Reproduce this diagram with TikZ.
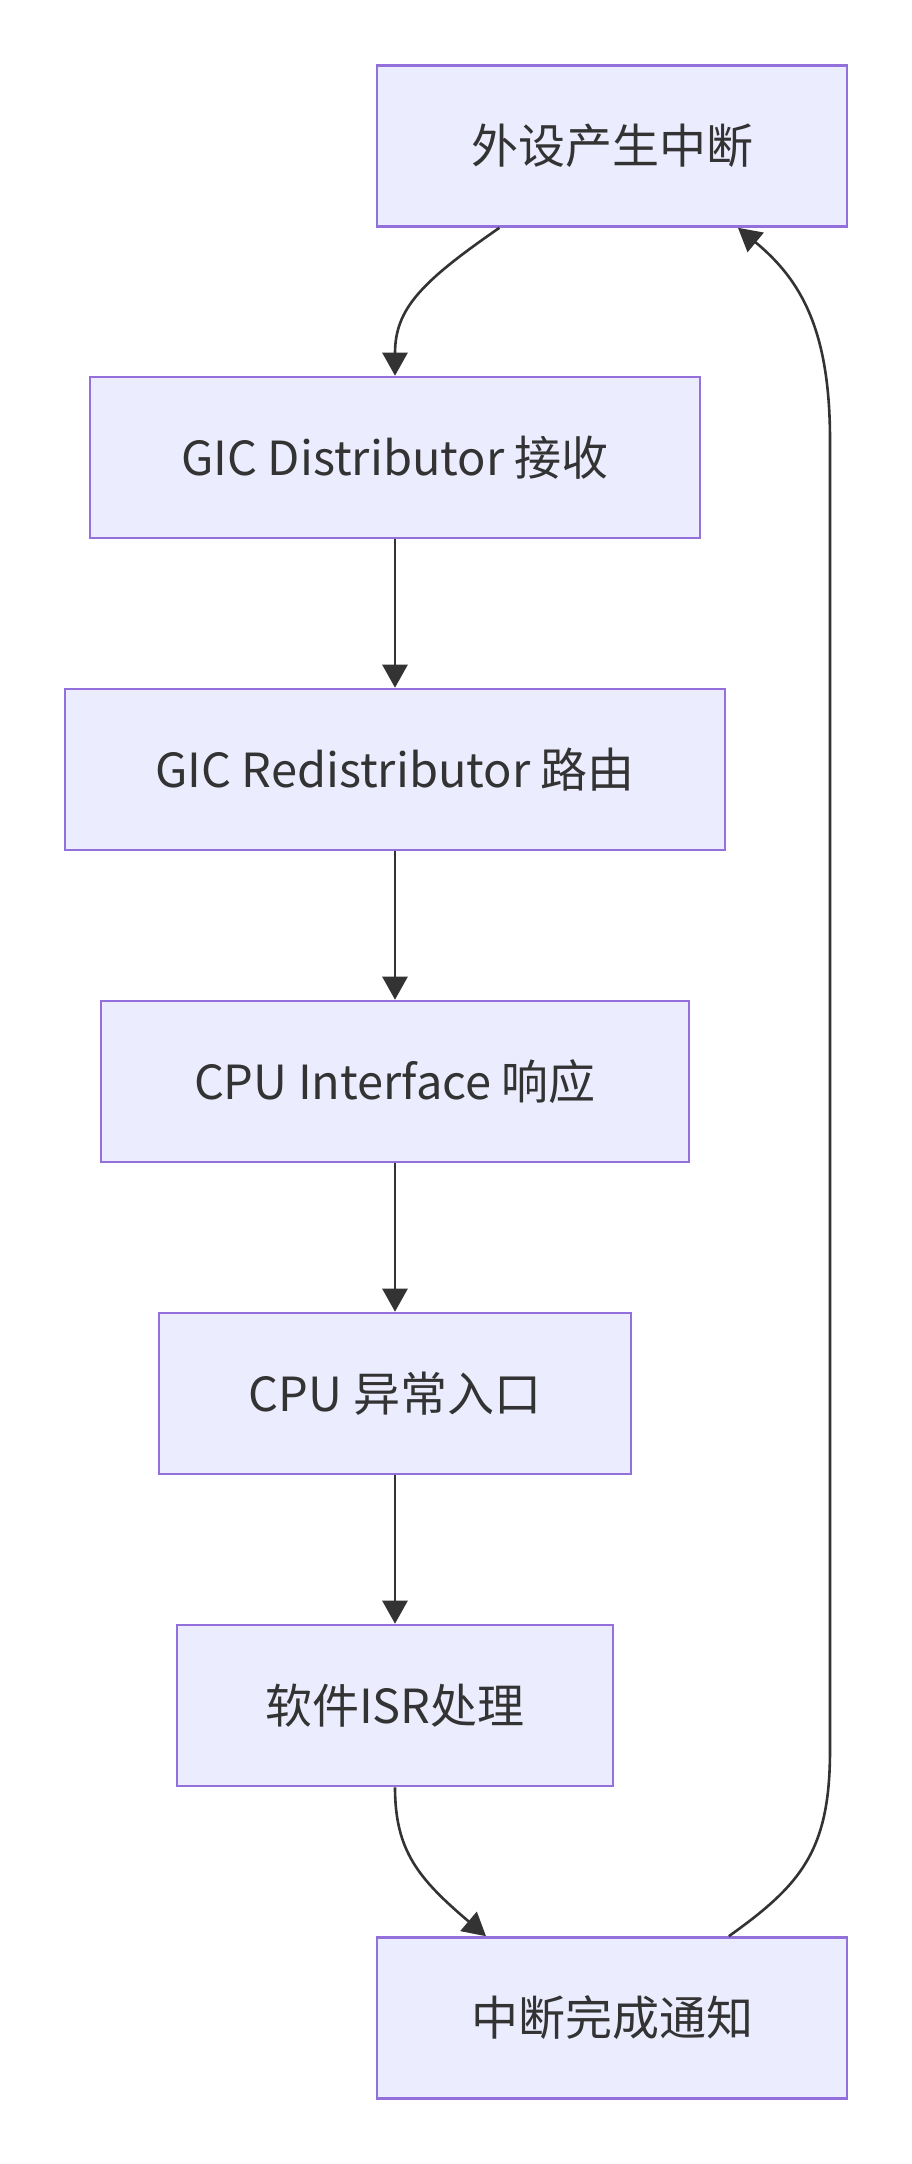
\documentclass[tikz,border=0pt]{standalone}
\usepackage{fontspec}
\setmainfont{Noto Sans CJK SC}
\usetikzlibrary{arrows.meta}
\definecolor{boxfill}{HTML}{ECECFF}
\definecolor{boxline}{HTML}{9370DB}
\definecolor{ink}{HTML}{333333}
\tikzset{
  stage/.style={draw=boxline,fill=boxfill,line width=1.3pt,minimum height=80.5pt,text=ink,font=\fontsize{23.5}{28}\selectfont},
  flow/.style={draw=ink,line width=1.3pt,-{Triangle[length=11.5pt,width=12.5pt]}}
}
\begin{document}
\begin{tikzpicture}[x=0.5pt,y=-0.5pt]
  \useasboundingbox (0,0) rectangle (911,2164);
  \node[stage,minimum width=235pt] (periph) at (612,146) {外设产生中断};
  \node[stage,minimum width=305pt] (dist) at (395,457.5) {GIC Distributor 接收};
  \node[stage,minimum width=330pt] (redist) at (395,769.5) {GIC Redistributor 路由};
  \node[stage,minimum width=294pt] (cpuif) at (395,1081.5) {CPU Interface 响应};
  \node[stage,minimum width=236pt] (excp) at (395,1393.5) {CPU 异常入口};
  \node[stage,minimum width=218pt] (isr) at (395,1705.5) {软件ISR处理};
  \node[stage,minimum width=235pt] (done) at (612,2018) {中断完成通知};
  \coordinate (rlow) at (830,1750);
  \coordinate (rup) at (830,440);
  \draw[flow] (periph.216) .. controls +(-78,54) and +(0,-67) .. (dist.north);
  \draw[flow] (dist) -- (redist);
  \draw[flow] (redist) -- (cpuif);
  \draw[flow] (cpuif) -- (excp);
  \draw[flow] (excp) -- (isr);
  \draw[flow] (isr.south) .. controls +(0,64) and +(-67,-57) .. (done.147);
  \draw[flow] (done.35) .. controls +(73,-52) and +(0,100) .. (rlow) -- (rup) .. controls +(0,-110) and +(63,52) .. (periph.-33);
\end{tikzpicture}
\end{document}
